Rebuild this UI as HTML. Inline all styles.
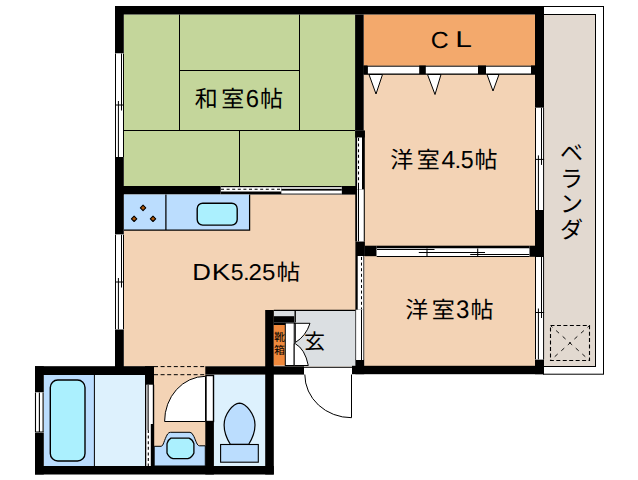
<!DOCTYPE html>
<html lang="ja">
<head>
<meta charset="utf-8">
<title>Floor plan</title>
<style>
html,body{margin:0;padding:0;background:#fff;}
body{width:638px;height:480px;overflow:hidden;font-family:"Liberation Sans",sans-serif;}
svg{display:block;}
</style>
</head>
<body>
<svg width="638" height="480" viewBox="0 0 638 480" role="img">
<rect width="638" height="480" fill="#fff"/>
<g id="floors">
<rect x="124" y="14.5" width="231" height="171.5" fill="#C4D69B"/>
<rect x="124" y="194.5" width="232" height="172" fill="#F3D3B5"/>
<rect x="154" y="366" width="52" height="100" fill="#F3D3B5"/>
<rect x="363.7" y="65" width="171.3" height="181" fill="#F3D3B5"/>
<rect x="364.2" y="256" width="170.800" height="110" fill="#F3D3B5"/>
<rect x="363.7" y="14.5" width="171.3" height="51.2" fill="#F3A96C"/>
<rect x="543.5" y="6.5" width="60" height="367.7" fill="#fff" stroke="#000" stroke-width="1"/>
<rect x="543.5" y="14.5" width="52" height="352" fill="#E2D9D0" stroke="#000" stroke-width="1"/>
<rect x="273.8" y="310" width="82.2" height="56.5" fill="#DBDFE2"/>
<rect x="43.8" y="375" width="50.6" height="91" fill="#BBDDFE"/>
<rect x="94.4" y="375" width="50.6" height="91" fill="#DDF1FD"/>
<rect x="213.9" y="375" width="51.5" height="91" fill="#DDF1FD"/>
</g>
<g id="tatami" stroke="#000" stroke-width="1" fill="none">
<path d="M179.5 14.5V130.5 M299.5 14.5V130.5 M179.5 70.5H299.5 M124 130.5H355 M239.5 130.5V186"/>
</g>
<g id="walls" fill="#000">
<rect x="115" y="6" width="429" height="8.5" fill="#000"/>
<rect x="115" y="6" width="8.8" height="47.5" fill="#000"/>
<rect x="115" y="157" width="8.8" height="77.5" fill="#000"/>
<rect x="115" y="329.3" width="8.8" height="45.7" fill="#000"/>
<rect x="115" y="186" width="105.5" height="8.5" fill="#000"/>
<rect x="341.8" y="186" width="14.2" height="8.6" fill="#000"/>
<rect x="355.1" y="14.5" width="8.6" height="116.1" fill="#000"/>
<rect x="355.2" y="130.6" width="9.6" height="6.9" fill="#000"/>
<rect x="355.4" y="241.4" width="9.5" height="14.6" fill="#000"/>
<rect x="364.9" y="245.7" width="11.8" height="10.5" fill="#000"/>
<rect x="376.7" y="245.7" width="152.6" height="2.8" fill="#000"/>
<rect x="529.3" y="245.7" width="14.7" height="11.1" fill="#000"/>
<rect x="535" y="6" width="9" height="101.8" fill="#000"/>
<rect x="535" y="210" width="9" height="47" fill="#000"/>
<rect x="535" y="359.4" width="9" height="14.8" fill="#000"/>
<rect x="352" y="365.8" width="192" height="8.4" fill="#000"/>
<rect x="355.4" y="359.8" width="8.8" height="14.4" fill="#000"/>
<rect x="205.3" y="366.3" width="98.7" height="8.3" fill="#000"/>
<rect x="265.2" y="310" width="8.6" height="164.5" fill="#000"/>
<rect x="35" y="466" width="238.8" height="8.5" fill="#000"/>
<rect x="35" y="366.2" width="119" height="8.8" fill="#000"/>
<rect x="35" y="366.2" width="8.8" height="26.3" fill="#000"/>
<rect x="35" y="432.6" width="8.8" height="41.9" fill="#000"/>
<rect x="145" y="366.2" width="9" height="18.8" fill="#000"/>
<rect x="205.3" y="421.7" width="8.6" height="52.8" fill="#000"/>
<rect x="273.8" y="316.2" width="20.4" height="6.3" fill="#000"/>
<rect x="273.8" y="322.5" width="11.2" height="2.5" fill="#000"/>
<rect x="363.5" y="65.5" width="4" height="8.5" fill="#000"/>
<rect x="419.2" y="65.5" width="6.6" height="8.5" fill="#000"/>
<rect x="478" y="65.5" width="8" height="8.5" fill="#000"/>
<rect x="531" y="65.5" width="4" height="8.5" fill="#000"/>
</g>
<g id="cl-doors">
<rect x="363.5" y="65.7" width="171.5" height="9.1" fill="#000"/>
<rect x="367.9" y="66.7" width="51.3" height="6.8" fill="#fff"/>
<rect x="425.8" y="66.7" width="52.2" height="6.8" fill="#fff"/>
<rect x="486" y="66.7" width="45" height="6.8" fill="#fff"/>
<g fill="#fff" stroke="#000" stroke-width="1" stroke-linejoin="miter">
<path d="M369 74.5H382.5L376 94Z"/>
<path d="M427.5 74.5H441L435 94.5Z"/>
<path d="M487 74.5H499L493 91Z"/>
</g></g>
<g id="windows">
<rect x="115" y="53.5" width="9" height="103.5" fill="#fff"/>
<path d="M115.5 53.5V157 M123.5 53.5V157 M121.5 53.5V110.5 M118.4 101V157 M115 105H124" stroke="#000" stroke-width="1" fill="none"/>
<rect x="115" y="234.7" width="9" height="94.6" fill="#fff"/>
<path d="M115.5 234.7V329.3 M123.5 234.7V329.3 M121.5 234.7V287.5 M118.4 278V329.3 M115 282H124" stroke="#000" stroke-width="1" fill="none"/>
<rect x="535" y="107.8" width="9.1" height="102.2" fill="#fff"/>
<path d="M535.5 107.8V210 M543.6 107.8V210 M541.5 107.8V164.9 M538.4 155.4V210 M535 159.4H544.1" stroke="#000" stroke-width="1" fill="none"/>
<rect x="535" y="257" width="9.1" height="102.4" fill="#fff"/>
<path d="M535.5 257V359.4 M543.6 257V359.4 M541.5 257V318 M538.4 308.5V359.4 M535 312.5H544.1" stroke="#000" stroke-width="1" fill="none"/>
<rect x="35" y="392.5" width="8.8" height="40.1" fill="#fff"/>
<path d="M35.5 392.5V432.6 M39.4 392.5V432.6 M43.1 392.5V432.6 M35 432H43.8" stroke="#000" stroke-width="1.1" fill="none"/>
</g>
<g id="doors" stroke="#000" stroke-width="1" fill="#fff">
<rect x="220.5" y="186" width="121.3" height="8.5" fill="#000" stroke="none"/>
<rect x="221" y="187.2" width="60.3" height="4.3" fill="#fff" stroke="none"/>
<path d="M221 189.2H281.3" stroke-dasharray="3 2.6" stroke-width="1.1" fill="none"/>
<rect x="281.3" y="187.2" width="60.5" height="1.6" fill="#fff" stroke="none"/>
<rect x="281.3" y="190.6" width="60.5" height="3" fill="#fff" stroke="none"/>
<rect x="355.25" y="130.6" width="9.55" height="110.8" fill="#000" stroke="none"/>
<rect x="357.1" y="137.5" width="4.9" height="51.9" fill="#fff" stroke="none"/>
<rect x="357.1" y="189.4" width="6.65" height="52" fill="#fff" stroke="none"/>
<path d="M358.5 138V183" stroke-dasharray="3 2.6" stroke-width="1.1" fill="none"/>
<path d="M358.5 183V241.4" fill="none"/>
<rect x="355.4" y="256" width="8.8" height="104" fill="#000" stroke="none"/>
<rect x="357.7" y="256" width="5.7" height="53.7" fill="#fff" stroke="none"/>
<rect x="356.1" y="309.7" width="7.3" height="50.3" fill="#fff" stroke="none"/>
<path d="M361.5 257V309" stroke-dasharray="3 2.6" stroke-width="1" fill="none"/>
<path d="M361.5 309.7V360" stroke-width="1" fill="none"/>
<rect x="376.7" y="248.5" width="152.6" height="7.7" fill="#fff" stroke="none"/>
<path d="M376.7 256.5H529.3 M377 249.5H434.5 M418.8 252.5H485 M470.2 254.5H529.3 M427 248.5V256 M477.7 248.5V256" fill="none" stroke-width="1.05"/>
<rect x="145" y="384.7" width="9.2" height="81.3" fill="#000" stroke="none"/>
<rect x="146.3" y="384.7" width="6.5" height="39.3" fill="#fff" stroke="none"/>
<rect x="146.3" y="424" width="4.5" height="42" fill="#fff" stroke="none"/>
<path d="M148.1 384.7V430" fill="none" stroke-width="1.1"/>
<path d="M148.3 430V466" stroke-dasharray="3 2.6" stroke-width="1.1" fill="none"/>
<rect x="206" y="375.5" width="7.5" height="46" fill="#fff" stroke-width="1.4"/>
</g>
<path d="M154 366.6H205.3 M154 374.7H205.3" stroke="#000" stroke-width="1" stroke-dasharray="4 2.6" fill="none"/>
<path d="M205.5 376.3A41 45 0 0 0 164.6 421.5H205.5Z" fill="#fff" stroke="#000" stroke-width="1"/>
<g id="kitchen" stroke="#000" stroke-width="1">
<rect x="124" y="194.5" width="125.5" height="35.5" fill="#BBDDFE" stroke="none"/>
<path d="M124 230.05H249.6V194.5 M165.9 194.5V230" fill="none" stroke-width="1.25"/>
<rect x="197.2" y="203.2" width="40" height="21.9" rx="5.5" fill="#ABF0FE" stroke-width="1.4"/>
<path d="M143.05 205.2l2.7 2.7l-2.7 2.7l-2.7 -2.7z" fill="#B0590C" stroke-width="1.1" stroke-linejoin="round"/>
<path d="M134.1 216.1l2.7 2.7l-2.7 2.7l-2.7 -2.7z" fill="#B0590C" stroke-width="1.1" stroke-linejoin="round"/>
<path d="M153 216.1l2.7 2.7l-2.7 2.7l-2.7 -2.7z" fill="#B0590C" stroke-width="1.1" stroke-linejoin="round"/>
</g>
<g id="bath" stroke="#000" stroke-width="1">
<line x1="94.4" y1="375" x2="94.4" y2="466" stroke="#000" stroke-width="1"/>
<rect x="50.3" y="380" width="34.7" height="81" rx="7.5" fill="#ABF0FE" stroke-width="1.4"/>
</g>
<g id="basin" stroke="#000" stroke-width="1">
<path d="M154.2 446.3H161C163.5 446.3 164 440 167.6 434Q168.8 432.3 170.5 432.3H190Q192 432.3 193.9 436.5C196 441 197 445.8 199.5 445.8H205.3V466H154.2Z" fill="#BBDDFE"/>
<path d="M170.9 438.1H189Q192.7 439.5 193.9 443.6V452.9Q192.3 457.2 187.900 458.600H173Q168.6 457.2 167 452.900V443.600Q168.2 439.5 170.900 438.100Z" fill="#ABF0FE" stroke-width="1.3" stroke-linejoin="round"/>
</g>
<g id="toilet" stroke="#000" stroke-width="1" fill="#BBDDFE">
<path d="M239.5 403.1C246 403.5 255 414 255 425C255 433 252 439 248.75 444.3H230.3C227 439 224.1 433 224.1 425C224.1 414 233 403.5 239.5 403.1Z" stroke-width="1.2"/>
<rect x="220.6" y="444.5" width="37.7" height="17.7" fill="#BBDDFE" stroke-width="1.1"/>
</g>
<g id="genkan" stroke="#000" stroke-width="1">
<rect x="273.8" y="325" width="11.2" height="40.5" fill="#F0893C" stroke="none"/>
<rect x="285.3" y="323" width="8.9" height="42.5" fill="#fff"/>
<line x1="273.8" y1="310.35" x2="355.4" y2="310.35" stroke="#000" stroke-width="1.2"/>
<line x1="295.2" y1="311" x2="295.2" y2="322.5" stroke="#000" stroke-width="1.4"/>
<path d="M294.2 323.3H310Q306 336 295.3 342.500V323.300Z" fill="#fff"/>
<path d="M295.3 343.7Q305 349 308.300 365.500H294.200V343.700Z" fill="#fff"/>
<rect x="304" y="367.3" width="48" height="6.5" fill="#fff" stroke="none"/>
<path d="M304 367.300H352" fill="none"/>
<path d="M351.500 374.500V417.700 M304.800 374.500A46.700 43.200 0 0 0 351.500 417.700" fill="none"/>
</g>
<g id="verbox" stroke="#000" stroke-width="1.1" fill="none">
<rect x="550.5" y="325.5" width="39" height="35" stroke-dasharray="4 2.45"/>
<path d="M551 326L589 360 M589 326L551 360" stroke-width="0.9" stroke-dasharray="4 4.8" stroke-dashoffset="2"/>
</g>
<g id="labels" fill="#000" stroke="#000" stroke-width="0" font-family="'Liberation Sans', 'Noto Sans CJK JP', sans-serif" style="text-rendering:geometricPrecision">
<g aria-label="和室6帖">
<text x="194.8 221.15" y="107.3" font-size="23">和室</text>
<text transform="matrix(1.0836 0 0 1.1299 245.69 107.26)" font-size="22">6</text>
<text x="260" y="107.3" font-size="23">帖</text>
</g><g aria-label="洋室4.5帖">
<text x="390.3 416.65" y="167.9" font-size="23">洋室</text>
<text transform="matrix(1.1276 0 0 1.1298 441.43 167.90)" font-size="22">4</text>
<text transform="matrix(1.0980 0 0 0.9777 454.49 167.90)" font-size="22">.</text>
<text transform="matrix(1.0546 0 0 1.1270 460.77 167.86)" font-size="22">5</text>
<text x="474.6" y="167.9" font-size="23">帖</text>
</g><g aria-label="洋室3帖">
<text x="405.3 431.65" y="317.65" font-size="23">洋室</text>
<text transform="matrix(1.0929 0 0 1.1556 456.08 317.65)" font-size="22">3</text>
<text x="470.6" y="317.65" font-size="23">帖</text>
</g><g aria-label="DK5.25帖">
<text transform="matrix(1.1742 0 0 1.0571 192.18 279.60)" font-size="22">D</text>
<text transform="matrix(1.2676 0 0 1.0571 211.71 279.60)" font-size="22">K</text>
<text transform="matrix(1.0450 0 0 1.0423 230.68 279.58)" font-size="22">5</text>
<text transform="matrix(1.0980 0 0 0.9352 243.09 279.60)" font-size="22">.</text>
<text transform="matrix(1.0975 0 0 1.0416 248.59 279.60)" font-size="22">2</text>
<text transform="matrix(1.0929 0 0 1.0423 262.04 279.58)" font-size="22">5</text>
<text transform="matrix(1.08 0 0 1 276.6 279.9)" font-size="22">帖</text>
</g><g aria-label="CL">
<text transform="matrix(1.1269 0 0 1.0593 430.74 47.77)" font-size="22">C</text>
<text transform="matrix(1.3608 0 0 1.0439 455.34 47.40)" font-size="22">L</text>
</g><g aria-label="ベランダ" font-size="23" text-anchor="middle">
<text x="571.5" y="161">ベ</text>
<text x="571.5" y="187">ラ</text>
<text x="571.5" y="212">ン</text>
<text x="571.5" y="237.5">ダ</text>
</g><g aria-label="玄">
<text x="314.45" y="348.9" font-size="21" text-anchor="middle">玄</text>
</g><g aria-label="靴箱" font-size="11" text-anchor="middle">
<text x="279.6" y="340.7">靴</text>
<text x="279.6" y="354">箱</text>
</g></g>
</svg>
</body>
</html>
